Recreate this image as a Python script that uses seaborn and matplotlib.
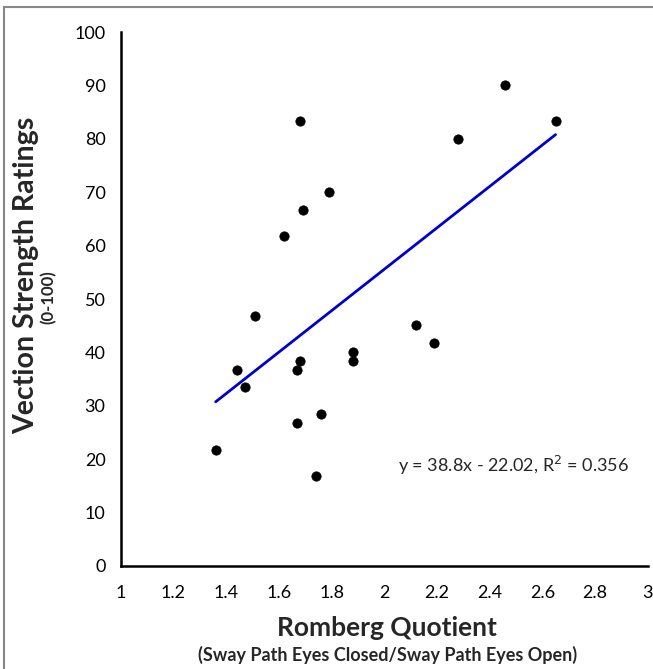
import numpy as np
import pandas as pd
import matplotlib
matplotlib.use("Agg")
import matplotlib.pyplot as plt
import seaborn as sns
from matplotlib.patches import Rectangle

# Values
romberg = [1.36, 1.44, 1.47, 1.51, 1.62, 1.67, 1.67, 1.68, 1.68, 1.69,
           1.74, 1.76, 1.79, 1.88, 1.88, 2.12, 2.19, 2.28, 2.46, 2.65]
vection = [21.7, 36.7, 33.5, 46.8, 61.8, 26.8, 36.7, 38.4, 83.3, 66.7,
           16.9, 28.5, 70.0, 40.1, 38.4, 45.1, 41.8, 80.0, 90.1, 83.3]

# Trend line as printed in the chart
slope = 38.8
intercept = -22.02
r_squared = 0.356

x_ticks = [1, 1.2, 1.4, 1.6, 1.8, 2, 2.2, 2.4, 2.6, 2.8, 3]
y_ticks = [0, 10, 20, 30, 40, 50, 60, 70, 80, 90, 100]

df = pd.DataFrame({"Romberg": romberg, "Vection": vection})
fit_x = np.array([min(romberg), max(romberg)])
trend = pd.DataFrame({"x": fit_x, "y": slope * fit_x + intercept})

sns.set_style("white")
plt.rcParams["font.family"] = ["Lato", "DejaVu Sans"]

fig = plt.figure(figsize=(6.53, 6.69), dpi=100)
ax = fig.add_axes([0.185, 0.154, 0.807, 0.798])

sns.lineplot(data=trend, x="x", y="y", color="#0000cc", linewidth=2, ax=ax)
sns.scatterplot(data=df, x="Romberg", y="Vection", color="black", s=45,
                edgecolor="black", ax=ax, zorder=3)

ax.set_xlim(1, 3)
ax.set_ylim(0, 100)
ax.set_xticks(x_ticks)
ax.set_xticklabels([f"{t:g}" for t in x_ticks])
ax.set_yticks(y_ticks)
ax.tick_params(axis="both", direction="out", length=5, width=1.5,
               color="black", labelsize=13, labelcolor="black", pad=6)
ax.tick_params(axis="x", pad=9)
sns.despine(ax=ax)
for side in ["left", "bottom"]:
    ax.spines[side].set_linewidth(1.8)
    ax.spines[side].set_color("black")

ax.set_xlabel("")
ax.set_ylabel("")
fig.text(0.593, 0.062, "Romberg Quotient", ha="center", va="center",
         fontsize=19, fontweight="bold")
fig.text(0.593, 0.021, "(Sway Path Eyes Closed/Sway Path Eyes Open)",
         ha="center", va="center", fontsize=13, fontweight="bold")
fig.text(0.04, 0.589, "Vection Strength Ratings", ha="center", va="center",
         rotation=90, fontsize=20.5, fontweight="bold")
fig.text(0.074, 0.556, "(0-100)", ha="center", va="center",
         rotation=90, fontsize=12, fontweight="bold")

ax.text(2.49, 18.9, f"y = {slope}x - {abs(intercept):.2f}, R$^2$ = {r_squared}",
        ha="center", va="center", fontsize=13)

fig.patches.append(Rectangle((0.006, -0.05), 1.1, 1.04, transform=fig.transFigure,
                             fill=False, edgecolor="#888888", linewidth=1.5))

fig.savefig("out.png", dpi=100)
